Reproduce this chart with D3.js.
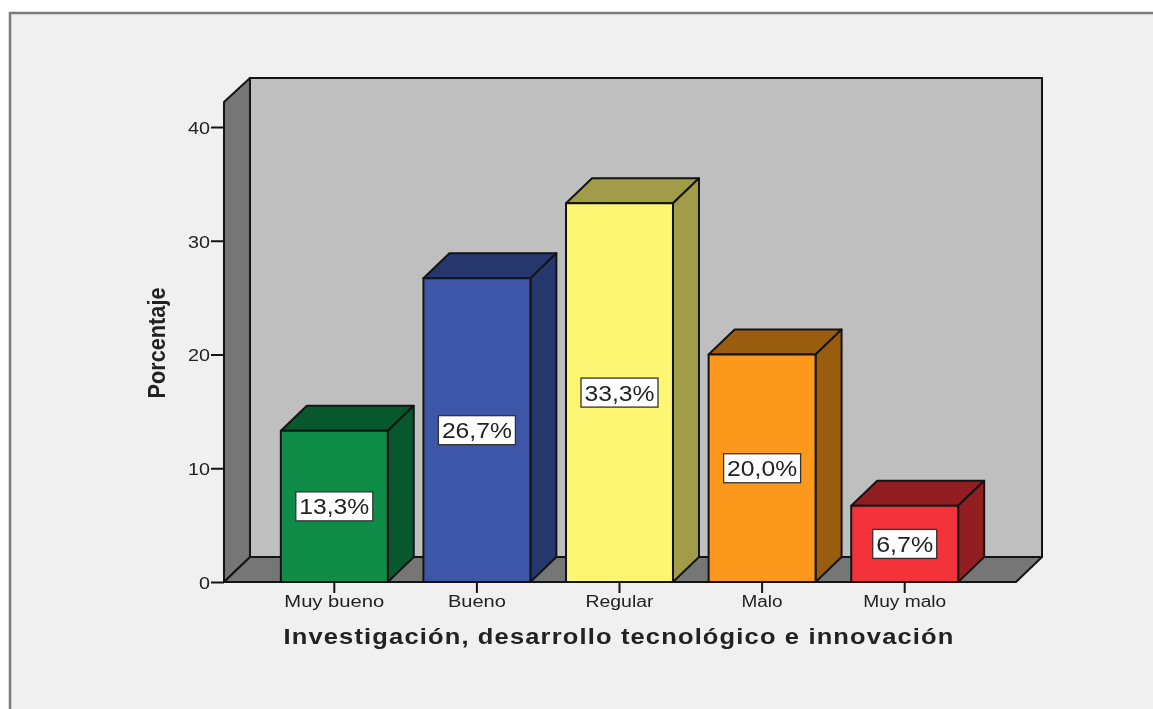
<!DOCTYPE html>
<html><head><meta charset="utf-8">
<script src="https://cdn.jsdelivr.net/npm/d3@7"></script>
<style>html,body{margin:0;padding:0;background:#fff;overflow:hidden}svg{display:block;filter:blur(0.35px)}text{font-family:"Liberation Sans",Arial,sans-serif;fill:#222}</style>
</head><body><div id="c"></div>
<script>
const categories=["Muy bueno","Bueno","Regular","Malo","Muy malo"];
const percentages=[13.3,26.7,33.3,20.0,6.7];
const valueLabels=["13,3%","26,7%","33,3%","20,0%","6,7%"];
const frontColors=["#0f8c47","#3d56a8","#fcf672","#fc991c","#f3323a"];
const topColors=["#07582c","#26376d","#a09c48","#9a5d10","#931e22"];
const sideColors=["#07582c","#26376d","#a09c48","#9a5d10","#931e22"];
const yTicks=[0,10,20,30,40];
const xTitle="Investigación, desarrollo tecnológico e innovación";
const yTitle="Porcentaje";

const W=1153,H=709,dx=26,dy=25,stroke="#141414";
const svg=d3.select("#c").append("svg").attr("width",W).attr("height",H);
svg.append("rect").attr("x",10).attr("y",13).attr("width",W).attr("height",H).attr("fill","#f0f0f0").attr("stroke","#7c7c7c").attr("stroke-width",2.5);

const y=d3.scaleLinear().domain([0,40]).range([582,127]);
const x=d3.scaleBand().domain(categories).range([263,976]).paddingInner(0.25).paddingOuter(0.125);
const wallL=224,wallR=1016,wallTop=102,base=y(0);
const poly=(pts,fill,sw=2)=>svg.append("polygon").attr("points",pts.map(p=>p.join(",")).join(" ")).attr("fill",fill).attr("stroke",stroke).attr("stroke-width",sw).attr("stroke-linejoin","round");

poly([[wallL+dx,wallTop-dy+1],[wallR+dx,wallTop-dy+1],[wallR+dx,base-dy],[wallL+dx,base-dy]],"#bfbfbf");
poly([[wallL,wallTop],[wallL+dx,wallTop-dy+1],[wallL+dx,base-dy],[wallL,base]],"#767676");
poly([[wallL,base],[wallL+dx,base-dy],[wallR+dx,base-dy],[wallR,base]],"#767676");

categories.forEach((c,i)=>{
  const x0=x(c),x1=x0+x.bandwidth(),yv=y(percentages[i]);
  poly([[x0,yv],[x0+dx,yv-dy],[x1+dx,yv-dy],[x1,yv]],topColors[i]);
  poly([[x1,yv],[x1+dx,yv-dy],[x1+dx,base-dy],[x1,base]],sideColors[i]);
  poly([[x0,yv],[x1,yv],[x1,base],[x0,base]],frontColors[i]);
  const cx=x0+x.bandwidth()/2,cy=(yv+base)/2;
  const w=valueLabels[i].length>4?77:64;
  svg.append("rect").attr("x",cx-w/2).attr("y",cy-14.5).attr("width",w).attr("height",29).attr("fill","#fff").attr("stroke","#333").attr("stroke-width",1.3);
  svg.append("text").attr("x",cx).attr("y",cy+8).attr("text-anchor","middle").attr("font-size",22).attr("textLength",w-7).attr("lengthAdjust","spacingAndGlyphs").text(valueLabels[i]);
});

const ya=svg.append("g").attr("transform",`translate(${wallL},0)`).call(d3.axisLeft(y).tickValues(yTicks).tickSize(13).tickPadding(1).tickFormat(d3.format("d")));
ya.select(".domain").remove();
ya.selectAll("line").attr("stroke",stroke).attr("stroke-width",2);
ya.selectAll("text").attr("font-size",17).attr("fill","#222").attr("textLength",22).attr("lengthAdjust","spacingAndGlyphs").attr("dy","0.37em").attr("font-family","Liberation Sans");
ya.selectAll("text").filter(d=>d===0).attr("textLength",11);

const xa=svg.append("g").attr("transform",`translate(0,${base})`).call(d3.axisBottom(x).tickSize(11).tickPadding(3));
xa.select(".domain").remove();
xa.selectAll("line").attr("stroke",stroke).attr("stroke-width",2);
const xw=[100,58,68,41,83];
xa.selectAll("text").attr("font-size",16).attr("fill","#222").attr("font-family","Liberation Sans").attr("textLength",(d,i)=>xw[i]).attr("lengthAdjust","spacingAndGlyphs");

svg.append("text").attr("x",619).attr("y",644).attr("text-anchor","middle").attr("font-size",22).attr("font-weight","bold").attr("fill","#0c0c0c").attr("letter-spacing",1).attr("textLength",671).attr("lengthAdjust","spacingAndGlyphs").text(xTitle);
svg.append("text").attr("transform","translate(165,343) rotate(-90)").attr("text-anchor","middle").attr("font-size",24).attr("font-weight","bold").attr("fill","#0c0c0c").attr("textLength",111).attr("lengthAdjust","spacingAndGlyphs").text(yTitle);
</script></body></html>
